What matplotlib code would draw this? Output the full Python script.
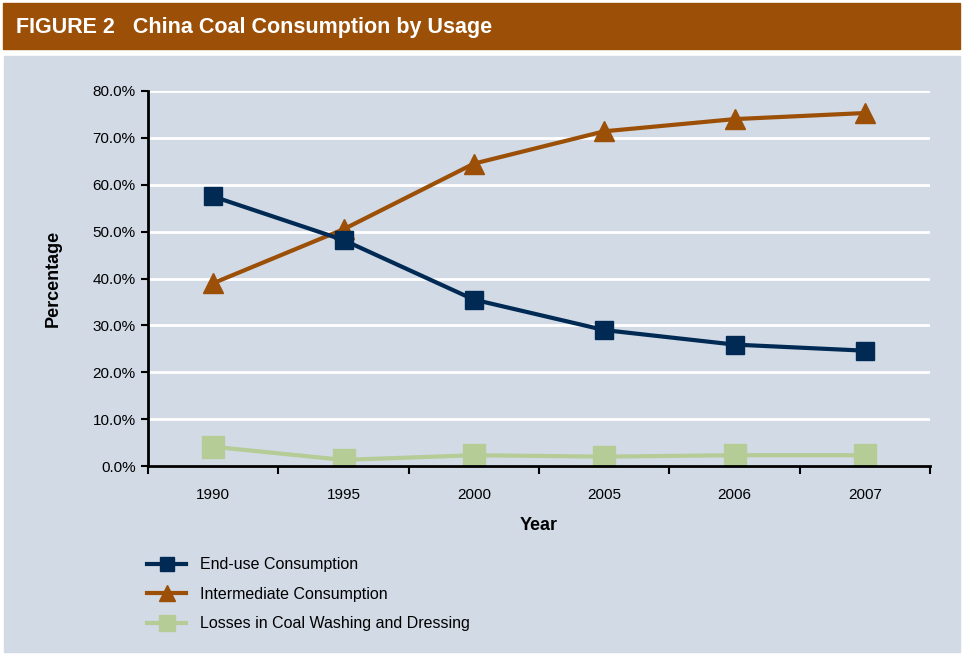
import matplotlib.pyplot as plt
from matplotlib.patches import Rectangle
from matplotlib.ticker import FixedLocator

# Values (share of coal consumption, %)
years = ["1990", "1995", "2000", "2005", "2006", "2007"]
end_use = [57.5, 48.2, 35.5, 29.0, 25.9, 24.6]
intermediate = [39.0, 50.5, 64.5, 71.4, 74.0, 75.3]
losses = [4.1, 1.3, 2.3, 2.0, 2.3, 2.3]

series_names = [
	"End-use Consumption",
	"Intermediate Consumption",
	"Losses in Coal Washing and Dressing",
]

NAVY = "#002a54"
BROWN = "#9c4f06"
GREEN = "#b5cc96"
PANEL = "#d2dae6"

plt.rcParams["font.family"] = ["Liberation Sans Narrow", "Liberation Sans", "DejaVu Sans"]

fig = plt.figure(figsize=(9.63, 6.54), dpi=100)
W, H = 963, 654

# Header bar and light panel behind the chart
fig.patches.append(Rectangle((3 / W, 1 - 49 / H), 957 / W, 46 / H,
	transform=fig.transFigure, color=BROWN, zorder=-10))
fig.patches.append(Rectangle((4 / W, 1 - 652 / H), 956 / W, 596 / H,
	transform=fig.transFigure, color=PANEL, zorder=-10))
fig.text(16 / W, 1 - 27 / H, "FIGURE 2   China Coal Consumption by Usage",
	color="white", fontsize=15.5, fontweight="bold", va="center", ha="left")

ax = fig.add_axes([148 / W, 1 - 466 / H, 782 / W, 375 / H])
ax.patch.set_alpha(0)

x = list(range(len(years)))
ax.plot(x, end_use, color=NAVY, lw=3, marker="s", ms=13, label=series_names[0], zorder=4)
ax.plot(x, intermediate, color=BROWN, lw=3, marker="^", ms=15, label=series_names[1], zorder=3)
ax.plot(x, losses, color=GREEN, lw=3, marker="s", ms=16, label=series_names[2], zorder=2)

ax.set_xlim(-0.5, len(years) - 0.5)
ax.set_ylim(0, 80)
ax.set_yticks(range(0, 81, 10))
ax.set_yticklabels([f"{v:.1f}%" for v in range(0, 81, 10)])
ax.set_xticks(x)
ax.set_xticklabels(years)
ax.xaxis.set_minor_locator(FixedLocator([i - 0.5 for i in range(len(years) + 1)]))
ax.tick_params(axis="x", which="major", length=0, pad=16, labelsize=11)
ax.tick_params(axis="x", which="minor", length=6, width=1.5, direction="out")
ax.tick_params(axis="y", length=5, width=1.5, labelsize=11, pad=4)

ax.grid(axis="y", color="white", lw=2)
ax.set_axisbelow(True)
for side in ("top", "right"):
	ax.spines[side].set_visible(False)
for side in ("left", "bottom"):
	ax.spines[side].set_linewidth(2)

ax.set_xlabel("Year", fontsize=13, fontweight="bold", labelpad=11)
ax.set_ylabel("Percentage", fontsize=13, fontweight="bold", labelpad=22)

fig.legend(loc="upper left", bbox_to_anchor=(133 / W, 1 - 543 / H),
	frameon=False, fontsize=11.5, handlelength=2.4, labelspacing=0.9,
	handletextpad=0.9, markerscale=0.75)

fig.savefig("out.png", dpi=100)
